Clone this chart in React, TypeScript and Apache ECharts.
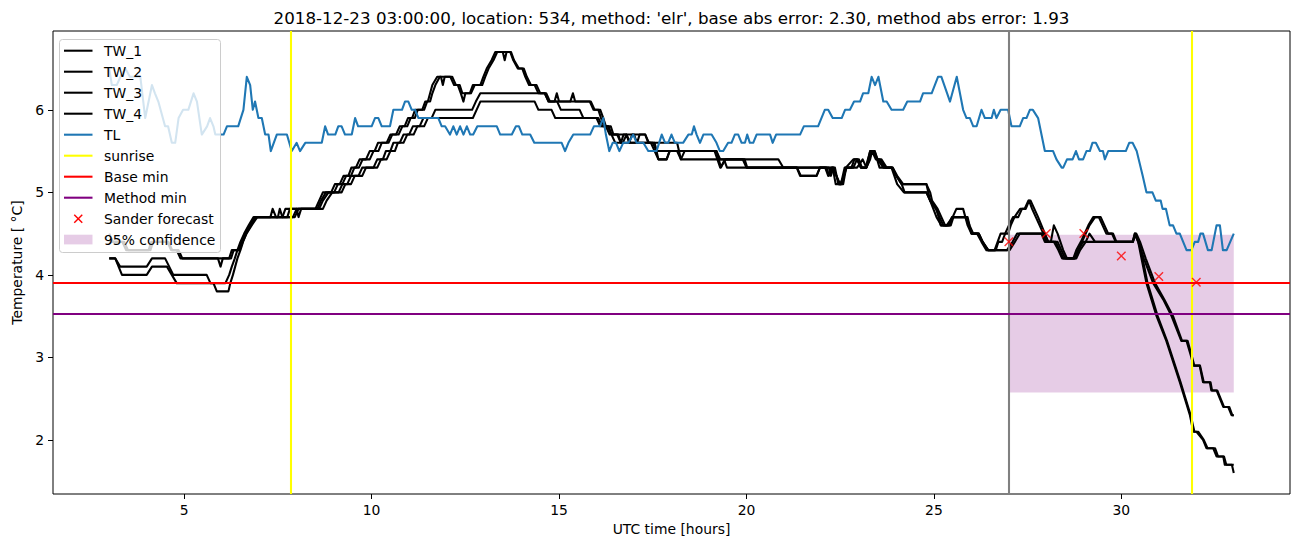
import React, { useEffect, useRef } from "react";
import * as echarts from "echarts";

const TITLE =
  "2018-12-23 03:00:00, location: 534, method: 'elr', base abs error: 2.30, method abs error: 1.93";
const X_LABEL = "UTC time [hours]";
const Y_LABEL = "Temperature [ °C]";
const FONT = "'DejaVu Sans', sans-serif";

const xTicks = [5, 10, 15, 20, 25, 30];
const yTicks = [2, 3, 4, 5, 6];
const xRange = [1.5, 34.5];
const yRange = [1.345, 6.955];

const legendLabels = [
  "TW_1",
  "TW_2",
  "TW_3",
  "TW_4",
  "TL",
  "sunrise",
  "Base min",
  "Method min",
  "Sander forecast",
  "95% confidence",
];

// [hour, temperature]
const tw1 = [
  [3.0, 4.5], [3.1, 4.4], [3.35, 4.4], [3.45, 4.3], [4.05, 4.3], [4.12, 4.4], [4.58, 4.4], [4.68, 4.3], [4.8, 4.3], [4.9, 4.2],
  [5.9, 4.2], [5.97, 4.1], [6.03, 4.2], [6.2, 4.2], [6.27, 4.3], [6.45, 4.3], [6.52, 4.4], [6.62, 4.5], [6.75, 4.6], [6.9, 4.7],
  [7.62, 4.7], [7.7, 4.8], [8.5, 4.8], [8.6, 4.9], [8.7, 5.0], [8.92, 5.0], [9.02, 5.1], [9.15, 5.1], [9.25, 5.2], [9.38, 5.2],
  [9.46, 5.3], [9.58, 5.3], [9.68, 5.4], [9.85, 5.4], [9.95, 5.5], [10.08, 5.5], [10.17, 5.6], [10.4, 5.6], [10.5, 5.7], [10.65, 5.7],
  [10.75, 5.8], [10.88, 5.8], [10.97, 5.9], [11.08, 5.9], [11.16, 6.0], [11.35, 6.0], [11.43, 6.1], [11.5, 6.1], [11.56, 6.2], [11.62, 6.3],
  [11.75, 6.4], [11.85, 6.4], [11.9, 6.3], [11.95, 6.4], [12.1, 6.4], [12.2, 6.3], [12.3, 6.3], [12.38, 6.2], [12.45, 6.1], [12.5, 6.2],
  [12.62, 6.2], [12.7, 6.3], [12.9, 6.3], [12.98, 6.4], [13.07, 6.5], [13.2, 6.6], [13.3, 6.7], [13.7, 6.7], [13.78, 6.6], [13.9, 6.5],
  [14.02, 6.5], [14.1, 6.4], [14.2, 6.3], [14.35, 6.3], [14.45, 6.2], [14.62, 6.2], [14.72, 6.1], [14.88, 6.1], [14.94, 6.2], [15.0, 6.1],
  [15.3, 6.1], [15.37, 6.2], [15.43, 6.1], [15.82, 6.1], [15.92, 6.0], [16.05, 6.0], [16.12, 5.9], [16.2, 5.8], [16.32, 5.8], [16.4, 5.7],
  [16.58, 5.7], [16.65, 5.6], [16.72, 5.7], [17.0, 5.7], [17.08, 5.6], [17.15, 5.7], [17.3, 5.7], [17.38, 5.6], [17.55, 5.6], [17.65, 5.4],
  [17.87, 5.4], [17.95, 5.5], [19.15, 5.5], [19.3, 5.3], [19.45, 5.4], [19.9, 5.4], [20.0, 5.3], [21.35, 5.3], [21.45, 5.2], [21.87, 5.2],
  [21.96, 5.3], [22.3, 5.3], [22.38, 5.1], [22.52, 5.1], [22.62, 5.3], [22.8, 5.3], [22.88, 5.4], [23.0, 5.4], [23.08, 5.3], [23.18, 5.3],
  [23.3, 5.5], [23.42, 5.5], [23.5, 5.4], [23.65, 5.3], [23.87, 5.3], [24.0, 5.2], [24.14, 5.1], [24.8, 5.1], [24.9, 4.9], [25.05, 4.8],
  [25.15, 4.7], [25.25, 4.6], [25.42, 4.6], [25.5, 4.7], [25.6, 4.8], [25.78, 4.8], [25.9, 4.6], [26.0, 4.5], [26.15, 4.5], [26.27, 4.4],
  [26.4, 4.3], [26.62, 4.3], [26.7, 4.4], [26.78, 4.5], [26.98, 4.5], [27.05, 4.6], [27.15, 4.7], [27.3, 4.8], [27.42, 4.8], [27.52, 4.9],
  [27.58, 4.9], [27.68, 4.8], [27.78, 4.7], [27.87, 4.6], [27.96, 4.5], [28.05, 4.4], [28.12, 4.4], [28.2, 4.6], [28.3, 4.5], [28.45, 4.3],
  [28.55, 4.2], [28.76, 4.2], [28.85, 4.3], [28.95, 4.4], [29.05, 4.5], [29.15, 4.6], [29.3, 4.7], [29.45, 4.7], [29.55, 4.6], [29.65, 4.5],
  [29.78, 4.5], [29.87, 4.4], [30.3, 4.4], [30.36, 4.5], [30.45, 4.4], [30.6, 4.2], [30.85, 3.9], [31.12, 3.7], [31.34, 3.5], [31.6, 3.2],
  [31.74, 3.2], [31.87, 3.0], [31.92, 2.9], [32.09, 2.9], [32.18, 2.7], [32.36, 2.7], [32.4, 2.6], [32.54, 2.6], [32.63, 2.5], [32.72, 2.4],
  [32.85, 2.4], [32.94, 2.3], [33.0, 2.3],
];

const tw2 = [
  [3.0, 4.4], [3.4, 4.4], [3.5, 4.3], [4.1, 4.3], [4.17, 4.4], [4.55, 4.4], [4.65, 4.3], [4.85, 4.3], [4.95, 4.2], [6.25, 4.2],
  [6.32, 4.3], [6.48, 4.3], [6.56, 4.4], [6.66, 4.5], [6.8, 4.6], [6.95, 4.7], [7.3, 4.7], [7.36, 4.8], [7.45, 4.7], [7.9, 4.7],
  [8.0, 4.8], [8.55, 4.8], [8.65, 4.9], [8.78, 5.0], [9.0, 5.0], [9.1, 5.1], [9.22, 5.1], [9.32, 5.2], [9.45, 5.2], [9.54, 5.3],
  [9.66, 5.3], [9.76, 5.4], [9.95, 5.4], [10.05, 5.5], [10.18, 5.5], [10.27, 5.6], [10.45, 5.6], [10.55, 5.7], [10.72, 5.7], [10.82, 5.8],
  [10.95, 5.8], [11.04, 5.9], [11.15, 5.9], [11.23, 6.0], [11.4, 6.0], [11.48, 6.1], [11.56, 6.1], [11.62, 6.2], [11.7, 6.3], [11.82, 6.4],
  [12.15, 6.4], [12.25, 6.3], [12.35, 6.3], [12.42, 6.2], [12.65, 6.2], [12.75, 6.3], [12.95, 6.3], [13.03, 6.4], [13.12, 6.5], [13.25, 6.6],
  [13.35, 6.7], [13.5, 6.7], [13.55, 6.6], [13.6, 6.7], [13.72, 6.7], [13.8, 6.6], [13.93, 6.5], [14.06, 6.5], [14.14, 6.4], [14.25, 6.3],
  [14.4, 6.3], [14.5, 6.2], [14.66, 6.2], [14.76, 6.1], [15.85, 6.1], [15.95, 6.0], [16.1, 6.0], [16.18, 5.9], [16.25, 5.8], [16.38, 5.8],
  [16.45, 5.7], [16.8, 5.7], [16.87, 5.6], [16.95, 5.7], [17.3, 5.7], [17.4, 5.6], [18.15, 5.6], [18.25, 5.4], [19.4, 5.4], [19.48, 5.3],
  [21.34, 5.3], [21.43, 5.2], [21.87, 5.2], [21.96, 5.3], [22.14, 5.3], [22.2, 5.2], [22.3, 5.3], [22.4, 5.2], [22.5, 5.1], [22.6, 5.2],
  [22.67, 5.3], [22.85, 5.3], [22.95, 5.4], [23.05, 5.3], [23.2, 5.3], [23.3, 5.4], [23.35, 5.5], [23.45, 5.4], [23.55, 5.4], [23.7, 5.3],
  [23.9, 5.3], [24.02, 5.2], [24.18, 5.1], [24.8, 5.1], [24.9, 5.0], [24.95, 4.9], [25.1, 4.8], [25.2, 4.7], [25.3, 4.6], [25.45, 4.6],
  [25.52, 4.7], [25.85, 4.7], [25.93, 4.6], [26.02, 4.5], [26.18, 4.5], [26.3, 4.4], [26.45, 4.3], [26.65, 4.3], [26.72, 4.4], [26.82, 4.4],
  [26.9, 4.5], [27.0, 4.6], [27.11, 4.7], [27.25, 4.7], [27.35, 4.8], [27.45, 4.8], [27.54, 4.9], [27.62, 4.8], [27.72, 4.7], [27.82, 4.6],
  [27.92, 4.5], [28.0, 4.4], [28.3, 4.4], [28.4, 4.3], [28.5, 4.2], [28.72, 4.2], [28.8, 4.3], [28.92, 4.4], [29.02, 4.5], [29.12, 4.6],
  [29.25, 4.7], [29.4, 4.7], [29.5, 4.6], [29.6, 4.5], [29.75, 4.5], [29.85, 4.4], [30.3, 4.4], [30.4, 4.5], [30.5, 4.4], [30.65, 4.2],
  [30.9, 3.9], [31.15, 3.7], [31.38, 3.5], [31.62, 3.2], [31.77, 3.2], [31.89, 3.0], [31.95, 2.9], [32.1, 2.9], [32.2, 2.7], [32.38, 2.7],
  [32.42, 2.6], [32.56, 2.6], [32.65, 2.5], [32.74, 2.4], [32.88, 2.4], [32.96, 2.3], [33.0, 2.3],
];

const tw3 = [
  [3.0, 4.2], [3.16, 4.2], [3.29, 4.1], [4.0, 4.1], [4.14, 4.2], [4.49, 4.2], [4.71, 4.0], [5.6, 4.0], [5.7, 3.9], [6.1, 3.9],
  [6.2, 4.0], [6.27, 4.1], [6.35, 4.2], [6.42, 4.3], [6.5, 4.4], [6.6, 4.5], [6.72, 4.6], [6.85, 4.7], [7.5, 4.7], [7.55, 4.8],
  [7.62, 4.7], [7.75, 4.7], [7.82, 4.8], [8.0, 4.8], [8.05, 4.7], [8.12, 4.8], [8.6, 4.8], [8.7, 4.9], [8.85, 5.0], [9.12, 5.0],
  [9.22, 5.1], [9.35, 5.1], [9.45, 5.2], [9.65, 5.2], [9.75, 5.3], [10.05, 5.3], [10.15, 5.4], [10.3, 5.4], [10.38, 5.5], [10.5, 5.5],
  [10.58, 5.6], [10.75, 5.6], [10.85, 5.7], [11.0, 5.7], [11.1, 5.8], [11.28, 5.8], [11.38, 5.9], [11.6, 5.9], [11.7, 6.0], [12.68, 6.0],
  [12.78, 6.1], [12.9, 6.2], [14.62, 6.2], [14.72, 6.1], [14.95, 6.1], [15.05, 6.0], [15.55, 6.0], [15.65, 5.9], [16.05, 5.9], [16.15, 5.8],
  [16.3, 5.8], [16.4, 5.7], [16.5, 5.6], [16.7, 5.6], [16.8, 5.7], [16.9, 5.6], [17.45, 5.6], [17.55, 5.5], [17.65, 5.4], [17.87, 5.4],
  [17.95, 5.5], [19.2, 5.5], [19.32, 5.3], [19.42, 5.4], [20.85, 5.4], [20.98, 5.3], [22.1, 5.3], [22.18, 5.2], [22.26, 5.3], [22.36, 5.3],
  [22.45, 5.1], [22.55, 5.1], [22.65, 5.3], [22.85, 5.4], [22.95, 5.4], [23.05, 5.3], [23.2, 5.3], [23.3, 5.5], [23.38, 5.5], [23.48, 5.4],
  [23.6, 5.4], [23.74, 5.3], [23.9, 5.3], [24.0, 5.2], [24.14, 5.1], [24.22, 5.0], [24.8, 5.0], [24.9, 4.9], [25.07, 4.8], [25.18, 4.6],
  [25.34, 4.6], [25.5, 4.7], [25.87, 4.7], [25.95, 4.6], [26.05, 4.5], [26.2, 4.5], [26.3, 4.4], [26.42, 4.3], [27.02, 4.3], [27.16, 4.4],
  [27.29, 4.5], [27.87, 4.5], [27.96, 4.4], [28.2, 4.4], [28.32, 4.3], [28.42, 4.2], [28.76, 4.2], [28.85, 4.3], [28.98, 4.4], [30.31, 4.4],
  [30.36, 4.5], [30.45, 4.4], [30.67, 3.9], [30.94, 3.5], [31.2, 3.2], [31.56, 2.7], [31.83, 2.3], [31.92, 2.1], [32.0, 2.1], [32.18, 2.0],
  [32.27, 1.9], [32.45, 1.9], [32.54, 1.8], [32.72, 1.8], [32.76, 1.7], [33.0, 1.7],
];

const tw4 = [
  [3.0, 4.2], [3.16, 4.2], [3.34, 4.0], [4.0, 4.0], [4.14, 4.1], [4.54, 4.1], [4.8, 3.9], [5.78, 3.9], [5.87, 3.8], [6.18, 3.8],
  [6.23, 3.9], [6.3, 4.0], [6.36, 4.1], [6.42, 4.2], [6.5, 4.3], [6.57, 4.4], [6.66, 4.5], [6.78, 4.6], [6.92, 4.7], [7.95, 4.7],
  [8.05, 4.8], [8.7, 4.8], [8.8, 4.9], [8.95, 5.0], [9.2, 5.0], [9.3, 5.1], [9.45, 5.1], [9.55, 5.2], [9.75, 5.2], [9.85, 5.3],
  [10.15, 5.3], [10.25, 5.4], [10.4, 5.4], [10.5, 5.5], [10.62, 5.5], [10.7, 5.6], [10.85, 5.6], [10.95, 5.7], [11.12, 5.7], [11.22, 5.8],
  [11.4, 5.8], [11.5, 5.9], [12.7, 5.9], [12.8, 6.0], [12.9, 6.1], [14.35, 6.1], [14.45, 6.0], [14.8, 6.0], [14.9, 5.9], [16.0, 5.9],
  [16.1, 5.8], [16.25, 5.8], [16.35, 5.7], [16.55, 5.7], [16.65, 5.6], [17.5, 5.6], [17.6, 5.5], [18.15, 5.5], [18.25, 5.4], [18.35, 5.5],
  [19.2, 5.5], [19.3, 5.4], [19.95, 5.4], [20.02, 5.3], [22.2, 5.3], [22.25, 5.2], [22.32, 5.3], [22.4, 5.2], [22.48, 5.1], [22.58, 5.1],
  [22.66, 5.3], [22.95, 5.3], [23.1, 5.4], [23.2, 5.3], [23.28, 5.4], [23.34, 5.5], [23.42, 5.5], [23.55, 5.3], [23.87, 5.3], [24.02, 5.1],
  [24.2, 5.0], [24.8, 5.0], [24.9, 4.9], [25.07, 4.7], [25.2, 4.6], [25.38, 4.6], [25.48, 4.7], [25.9, 4.7], [26.0, 4.5], [26.2, 4.5],
  [26.3, 4.4], [26.45, 4.3], [26.95, 4.3], [27.1, 4.4], [27.22, 4.5], [27.95, 4.5], [28.05, 4.4], [28.25, 4.4], [28.35, 4.3], [28.45, 4.2],
  [28.8, 4.2], [28.9, 4.3], [29.05, 4.4], [29.15, 4.5], [29.3, 4.4], [30.31, 4.4], [30.38, 4.5], [30.48, 4.4], [30.7, 3.9], [30.97, 3.5],
  [31.22, 3.2], [31.58, 2.7], [31.85, 2.3], [31.95, 2.1], [32.05, 2.1], [32.2, 2.0], [32.3, 1.9], [32.5, 1.9], [32.58, 1.8], [32.74, 1.8],
  [32.8, 1.7], [32.95, 1.7], [33.0, 1.6],
];

const tl = [
  [3.0, 6.5], [3.07, 6.3], [3.2, 6.3], [3.3, 6.4], [3.43, 6.5], [3.55, 6.4], [3.83, 6.4], [3.96, 5.9], [4.14, 6.3], [4.22, 6.2],
  [4.31, 6.1], [4.49, 5.8], [4.57, 5.8], [4.67, 5.6], [4.76, 5.6], [4.85, 5.9], [4.97, 6.0], [5.11, 6.0], [5.25, 6.2], [5.34, 6.1],
  [5.47, 5.7], [5.61, 5.8], [5.69, 5.9], [5.78, 5.8], [5.83, 5.7], [6.05, 5.7], [6.14, 5.8], [6.44, 5.8], [6.58, 6.0], [6.67, 6.4],
  [6.76, 6.3], [6.83, 6.0], [6.89, 6.1], [6.98, 5.9], [7.07, 5.9], [7.16, 5.7], [7.25, 5.7], [7.31, 5.5], [7.47, 5.7], [7.74, 5.7],
  [7.87, 5.5], [8.0, 5.6], [8.09, 5.5], [8.23, 5.6], [8.67, 5.6], [8.76, 5.8], [8.84, 5.7], [9.03, 5.7], [9.11, 5.8], [9.2, 5.8],
  [9.29, 5.7], [9.47, 5.7], [9.56, 5.9], [9.64, 5.8], [10.0, 5.8], [10.09, 5.9], [10.18, 5.9], [10.27, 5.8], [10.49, 5.8], [10.58, 6.0],
  [10.81, 6.0], [10.89, 6.1], [10.98, 6.1], [11.07, 6.0], [11.16, 6.0], [11.25, 5.9], [11.78, 5.9], [11.87, 5.8], [11.96, 5.8], [12.09, 5.7],
  [12.18, 5.8], [12.27, 5.7], [12.36, 5.8], [12.45, 5.7], [12.54, 5.8], [12.63, 5.7], [12.71, 5.7], [12.82, 5.8], [13.34, 5.8], [13.43, 5.7],
  [13.74, 5.7], [13.85, 5.8], [13.93, 5.8], [14.02, 5.7], [14.23, 5.7], [14.34, 5.6], [15.07, 5.6], [15.16, 5.5], [15.25, 5.6], [15.38, 5.7],
  [15.83, 5.7], [15.93, 5.8], [16.09, 5.8], [16.18, 5.9], [16.25, 5.7], [16.34, 5.5], [16.43, 5.6], [16.52, 5.6], [16.61, 5.5], [16.71, 5.6],
  [16.85, 5.6], [16.98, 5.7], [17.07, 5.6], [17.25, 5.6], [17.38, 5.5], [17.6, 5.5], [17.74, 5.7], [17.83, 5.6], [17.91, 5.6], [18.0, 5.7],
  [18.09, 5.6], [18.31, 5.6], [18.45, 5.7], [18.54, 5.7], [18.6, 5.8], [18.67, 5.7], [18.76, 5.6], [18.85, 5.7], [19.07, 5.7], [19.2, 5.6],
  [19.29, 5.5], [19.38, 5.5], [19.51, 5.6], [19.6, 5.6], [19.69, 5.7], [19.78, 5.7], [19.87, 5.6], [19.96, 5.6], [20.02, 5.7], [20.09, 5.6],
  [20.18, 5.6], [20.27, 5.7], [20.63, 5.7], [20.7, 5.6], [20.79, 5.7], [21.43, 5.7], [21.53, 5.8], [21.91, 5.8], [22.09, 6.0], [22.18, 6.0],
  [22.3, 5.9], [22.54, 5.9], [22.63, 6.0], [22.76, 6.0], [22.87, 6.1], [23.03, 6.1], [23.11, 6.2], [23.25, 6.2], [23.34, 6.4], [23.43, 6.3],
  [23.52, 6.4], [23.65, 6.1], [23.74, 6.1], [23.87, 6.0], [24.18, 6.0], [24.29, 6.1], [24.63, 6.1], [24.71, 6.2], [24.94, 6.2], [25.11, 6.4],
  [25.2, 6.4], [25.43, 6.1], [25.61, 6.4], [25.78, 6.0], [25.87, 5.9], [25.96, 5.9], [26.05, 5.8], [26.14, 5.8], [26.27, 6.0], [26.36, 5.9],
  [26.54, 5.9], [26.6, 6.0], [26.67, 5.9], [26.78, 6.0], [26.98, 6.0], [27.07, 5.8], [27.29, 5.8], [27.38, 5.9], [27.47, 5.9], [27.56, 6.0],
  [27.64, 6.0], [27.78, 5.9], [27.96, 5.5], [28.18, 5.5], [28.27, 5.4], [28.41, 5.3], [28.45, 5.3], [28.55, 5.4], [28.7, 5.4], [28.79, 5.5],
  [28.87, 5.4], [28.98, 5.4], [29.07, 5.5], [29.16, 5.5], [29.23, 5.6], [29.32, 5.6], [29.43, 5.5], [29.51, 5.5], [29.56, 5.4], [29.65, 5.5],
  [30.12, 5.5], [30.21, 5.6], [30.3, 5.6], [30.41, 5.5], [30.57, 5.2], [30.67, 5.0], [30.83, 5.0], [30.92, 4.9], [31.05, 4.9], [31.1, 4.8],
  [31.19, 4.8], [31.29, 4.6], [31.38, 4.6], [31.47, 4.5], [31.56, 4.5], [31.74, 4.3], [31.87, 4.3], [31.96, 4.4], [32.05, 4.4], [32.11, 4.5],
  [32.18, 4.5], [32.31, 4.3], [32.41, 4.3], [32.54, 4.6], [32.63, 4.6], [32.71, 4.3], [32.81, 4.3], [33.0, 4.5],
];

const sanderHours = [27, 28, 29, 30, 31, 32];
const sanderValues = [4.4, 4.5, 4.5, 4.23, 3.98, 3.91];
const sunriseHours = [7.85, 31.88];
const forecastStartHour = 27;
const baseMin = 3.91;
const methodMin = 3.53;
const confidenceLow = 2.575;
const confidenceHigh = 4.485;
const confidenceEndHour = 33;

const COLORS = {
  tw: "#000000",
  tl: "#1f77b4",
  sunrise: "#ffff00",
  base: "#ff0000",
  method: "#800080",
  forecastStart: "#808080",
  sander: "#ff0000",
  band: "rgba(128,0,128,0.2)",
};

const LW = 2.08;

function buildLegend() {
  const x0 = 59.5;
  const y0 = 39.5;
  const rowY0 = 50.7;
  const rowDY = 21.0;
  const hx0 = 64;
  const hx1 = 92.5;
  const tx = 104;
  const kinds = ["tw", "tw", "tw", "tw", "tl", "sunrise", "base", "method", "x", "band"];
  const children: any[] = [
    {
      type: "rect",
      shape: { x: x0, y: y0, width: 161, height: 213, r: 3 },
      style: { fill: "rgba(255,255,255,0.8)", stroke: "#cccccc", lineWidth: 1 },
      z: 100,
    },
  ];
  legendLabels.forEach((label, i) => {
    const cy = rowY0 + i * rowDY;
    const kind = kinds[i];
    if (kind === "x") {
      const cx = (hx0 + hx1) / 2;
      children.push({
        type: "line",
        shape: { x1: cx - 4, y1: cy - 4, x2: cx + 4, y2: cy + 4 },
        style: { stroke: COLORS.sander, lineWidth: 1.4 },
        z: 101,
      });
      children.push({
        type: "line",
        shape: { x1: cx - 4, y1: cy + 4, x2: cx + 4, y2: cy - 4 },
        style: { stroke: COLORS.sander, lineWidth: 1.4 },
        z: 101,
      });
    } else if (kind === "band") {
      children.push({
        type: "rect",
        shape: { x: hx0, y: cy - 5, width: hx1 - hx0, height: 9.7 },
        style: { fill: COLORS.band },
        z: 101,
      });
    } else {
      children.push({
        type: "line",
        shape: { x1: hx0, y1: cy, x2: hx1, y2: cy },
        style: { stroke: (COLORS as any)[kind], lineWidth: LW },
        z: 101,
      });
    }
    children.push({
      type: "text",
      x: tx,
      y: cy,
      style: {
        text: label,
        fill: "#000",
        fontSize: 13.9,
        fontFamily: FONT,
        align: "left",
        verticalAlign: "middle",
      },
      z: 101,
    });
  });
  return children;
}

export default function App() {
  const ref = useRef<HTMLDivElement>(null);
  useEffect(() => {
    if (!ref.current) return;
    const chart = echarts.init(ref.current, undefined, { renderer: "svg" });
    const axisText = { color: "#000", fontSize: 13.9, fontFamily: FONT };
    const twSeries = [tw1, tw2, tw3, tw4].map((d, i) => ({
      name: legendLabels[i],
      type: "line",
      data: d,
      symbol: "none",
      showSymbol: false,
      silent: true,
      lineStyle: { color: COLORS.tw, width: LW, join: "round" },
      z: 3,
    }));
    const option: any = {
      animation: false,
      grid: {
        left: 53,
        top: 31,
        width: 1237,
        height: 463,
        show: true,
        containLabel: false,
        outerBoundsMode: "none",
        borderColor: "#000",
        borderWidth: 1,
        backgroundColor: "transparent",
      },
      xAxis: {
        type: "value",
        min: xRange[0],
        max: xRange[1],
        splitLine: { show: false },
        axisLine: { show: false },
        axisTick: { show: true, length: 5, lineStyle: { color: "#000", width: 1 }, customValues: xTicks },
        axisLabel: { ...axisText, margin: 9, customValues: xTicks },
        name: X_LABEL,
        nameLocation: "middle",
        nameGap: 27,
        nameTextStyle: axisText,
      },
      yAxis: {
        type: "value",
        min: yRange[0],
        max: yRange[1],
        splitLine: { show: false },
        axisLine: { show: false },
        axisTick: { show: true, length: 5, lineStyle: { color: "#000", width: 1 }, customValues: yTicks },
        axisLabel: { ...axisText, margin: 9, customValues: yTicks },
        name: Y_LABEL,
        nameLocation: "middle",
        nameGap: 28,
        nameTextStyle: axisText,
      },
      graphic: [
        {
          type: "text",
          x: 671.5,
          y: 18,
          style: {
            text: TITLE,
            fill: "#000",
            fontSize: 16.7,
            fontFamily: FONT,
            align: "center",
            verticalAlign: "middle",
          },
          z: 100,
        },
        ...buildLegend(),
      ],
      series: [
        {
          name: "95% confidence",
          type: "line",
          data: [],
          z: 1,
          markArea: {
            silent: true,
            itemStyle: { color: COLORS.band },
            data: [[{ xAxis: forecastStartHour, yAxis: confidenceLow }, { xAxis: confidenceEndHour, yAxis: confidenceHigh }]],
          },
        },
        ...twSeries,
        {
          name: "TL",
          type: "line",
          data: tl,
          symbol: "none",
          showSymbol: false,
          silent: true,
          lineStyle: { color: COLORS.tl, width: LW, join: "round" },
          z: 4,
        },
        {
          name: "sunrise",
          type: "line",
          data: [],
          z: 5,
          markLine: {
            silent: true,
            symbol: ["none", "none"],
            label: { show: false },
            lineStyle: { color: COLORS.sunrise, width: LW, type: "solid" },
            data: sunriseHours.map((h) => ({ xAxis: h })),
          },
        },
        {
          name: "forecast start",
          type: "line",
          data: [],
          z: 5,
          markLine: {
            silent: true,
            symbol: ["none", "none"],
            label: { show: false },
            lineStyle: { color: COLORS.forecastStart, width: LW, type: "solid" },
            data: [{ xAxis: forecastStartHour }],
          },
        },
        {
          name: "Base min",
          type: "line",
          data: [],
          z: 5,
          markLine: {
            silent: true,
            symbol: ["none", "none"],
            label: { show: false },
            lineStyle: { color: COLORS.base, width: LW, type: "solid" },
            data: [{ yAxis: baseMin }],
          },
        },
        {
          name: "Method min",
          type: "line",
          data: [],
          z: 5,
          markLine: {
            silent: true,
            symbol: ["none", "none"],
            label: { show: false },
            lineStyle: { color: COLORS.method, width: LW, type: "solid" },
            data: [{ yAxis: methodMin }],
          },
        },
        {
          name: "Sander forecast",
          type: "scatter",
          data: sanderHours.map((h, i) => [h, sanderValues[i]]),
          symbol: "path://M0,0L10,10M10,0L0,10",
          symbolSize: 8.5,
          silent: true,
          itemStyle: { color: "rgba(0,0,0,0)", borderColor: COLORS.sander, borderWidth: 1.4 },
          z: 6,
        },
      ],
    };
    chart.setOption(option);
    return () => chart.dispose();
  }, []);
  return (
    <div
      ref={ref}
      style={{ position: "fixed", left: 0, top: 0, width: 1302, height: 547, background: "#fff" }}
    />
  );
}
